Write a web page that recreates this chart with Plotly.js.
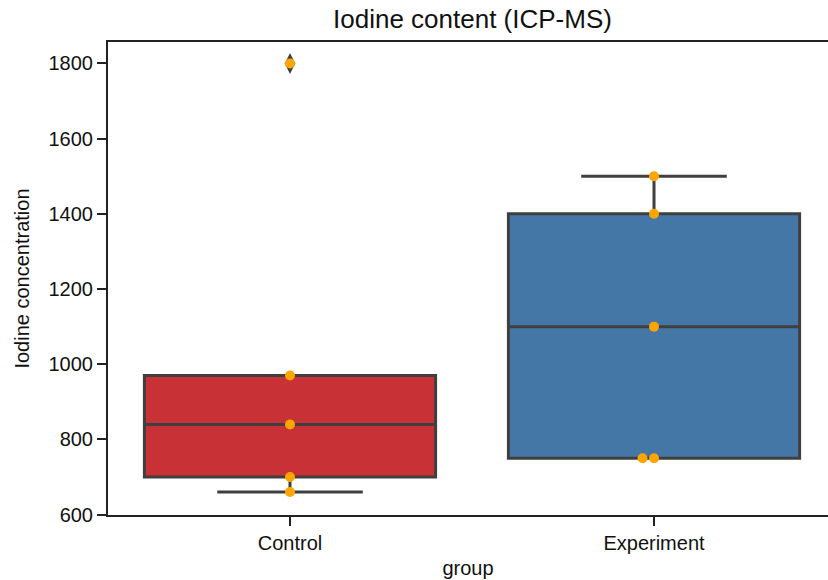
<!DOCTYPE html>
<html>
<head>
<meta charset="utf-8">
<script src="https://cdn.plot.ly/plotly-3.0.1.min.js"></script>
<style>html,body{margin:0;padding:0;background:#fff;}#chart{width:828px;height:580px;}</style>
</head>
<body>
<div id="chart"></div>
<script>
// ---- data ----
const categories = ["Control", "Experiment"];
const controlValues = [1800, 970, 840, 700, 660];
const experimentValues = [1500, 1400, 1100, 750, 750];
const boxColors = ["#C83135", "#4477A6"];
const yTickVals = [600, 800, 1000, 1200, 1400, 1600, 1800];

const groups = [controlValues, experimentValues];

// ---- layout constants ----
const W = 828, H = 580;
const M = {l: 108, r: 0, t: 42, b: 65};
const xRange = [-0.5, 1.478];
const yRange = [599, 1857];
const dotSize = 10;

const plotW = W - M.l - M.r, plotH = H - M.t - M.b;
const pxPerX = plotW / (xRange[1] - xRange[0]);
const pxPerY = plotH / (yRange[1] - yRange[0]);

// simple swarm placement (beeswarm) in pixel space
function swarm(values, center) {
  const placed = [];
  const d = dotSize * 1.15;
  const out = [];
  values.forEach(v => {
    const py = v * pxPerY;
    const cands = [0];
    for (let k = 1; k < 20; k++) { cands.push(-k * d); cands.push(k * d); }
    for (const off of cands) {
      const ok = placed.every(p => Math.hypot(p[0] - off, p[1] - py) >= d - 0.01);
      if (ok) { placed.push([off, py]); out.push(center + off / pxPerX); break; }
    }
  });
  return out;
}

const traces = [];
groups.forEach((vals, i) => {
  traces.push({
    type: 'box',
    y: vals,
    x0: i,
    name: categories[i],
    width: 0.8,
    whiskerwidth: 0.5,
    quartilemethod: 'inclusive',
    boxpoints: 'outliers',
    jitter: 0,
    pointpos: 0,
    fillcolor: boxColors[i],
    line: {color: '#3f3f3f', width: 3},
    marker: {symbol: 'diamond-tall', color: '#3f3f3f', size: 15, line: {width: 0}},
    hoverinfo: 'skip',
    showlegend: false
  });
});
groups.forEach((vals, i) => {
  traces.push({
    type: 'scatter',
    mode: 'markers',
    x: swarm(vals, i),
    y: vals,
    marker: {color: '#FFA500', size: dotSize, line: {width: 0}},
    hoverinfo: 'skip',
    showlegend: false,
    cliponaxis: false
  });
});

const font = {family: 'Liberation Sans, Arial, sans-serif', color: '#111'};
const layout = {
  width: W, height: H,
  margin: M,
  paper_bgcolor: '#fff', plot_bgcolor: '#fff',
  font: Object.assign({size: 20}, font),
  title: {text: 'Iodine content (ICP-MS)', font: Object.assign({size: 26}, font),
          x: 472.5 / W, xref: 'container', xanchor: 'center',
          y: 1 - 19 / H, yref: 'container', yanchor: 'middle'},
  xaxis: {
    range: xRange, tickmode: 'array', tickvals: [0, 1], ticktext: categories,
    showgrid: false, zeroline: false,
    showline: true, linecolor: '#222', linewidth: 2, mirror: true,
    ticks: 'outside', ticklen: 9, tickwidth: 2, tickcolor: '#222',
    tickfont: Object.assign({size: 20}, font),
    title: {text: 'group', font: Object.assign({size: 20}, font), standoff: 8}
  },
  yaxis: {
    range: yRange, tickmode: 'array', tickvals: yTickVals,
    showgrid: false, zeroline: false,
    showline: true, linecolor: '#222', linewidth: 2, mirror: false,
    ticks: 'outside', ticklen: 9, tickwidth: 2, tickcolor: '#222',
    tickfont: Object.assign({size: 20}, font),
    title: {text: 'Iodine concentration', font: Object.assign({size: 20}, font), standoff: 14}
  }
};

Plotly.newPlot('chart', traces, layout, {staticPlot: true, displayModeBar: false});
</script>
</body>
</html>
